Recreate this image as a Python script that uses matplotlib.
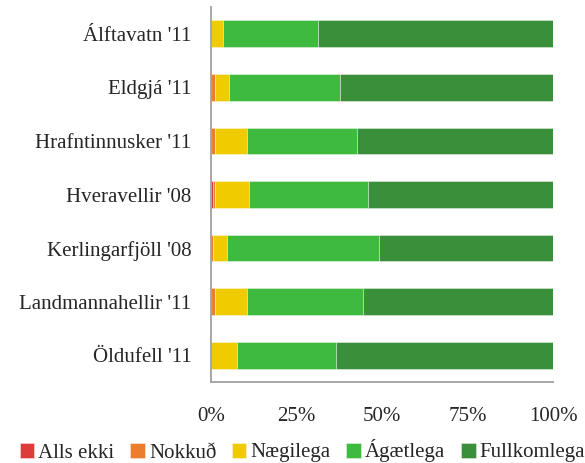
import matplotlib
matplotlib.use("Agg")
import matplotlib.pyplot as plt
import numpy as np

categories = ["Álftavatn '11", "Eldgjá '11", "Hrafntinnusker '11", "Hveravellir '08",
              "Kerlingarfjöll '08", "Landmannahellir '11", "Öldufell '11"]
series_names = ["Alls ekki", "Nokkuð", "Nægilega", "Ágætlega", "Fullkomlega"]
alls_ekki = [0.0, 0.0, 0.0, 0.6, 0.0, 0.0, 0.0]
nokkud = [0.0, 1.3, 1.3, 0.7, 0.6, 1.3, 0.0]
naegilega = [3.5, 4.0, 9.3, 9.8, 4.2, 9.3, 7.5]
agaetlega = [27.8, 32.5, 32.1, 34.9, 44.2, 33.9, 29.1]
fullkomlega = [68.7, 62.2, 57.3, 54.0, 51.0, 55.5, 63.4]
colors = ["#DE3B3B", "#EB7D2C", "#EFCB00", "#3EBB3F", "#3A8F3A"]
xticks = [0, 25, 50, 75, 100]
xticklabels = ["0%", "25%", "50%", "75%", "100%"]

plt.rcParams['font.family'] = ['Liberation Serif', 'DejaVu Serif']
FS = 15

fig = plt.figure(figsize=(5.85, 4.63), dpi=100)
ax = fig.add_axes([211/585, 1-382/463, 342/585, 375/463])

y = np.arange(len(categories))
left = np.zeros(len(categories))
for name, vals, c in zip(series_names, [alls_ekki, nokkud, naegilega, agaetlega, fullkomlega], colors):
    vals = np.array(vals)
    ax.barh(y, vals, left=left, height=0.5, color=c, label=name,
            edgecolor=(1, 1, 1, 0.45), linewidth=0.6)
    left += vals

ax.set_ylim(len(categories) - 0.5, -0.5)
ax.set_xlim(0, 100)
ax.set_yticks(y)
ax.set_yticklabels(categories, fontsize=FS, color="#262626")
ax.set_xticks(xticks)
ax.set_xticklabels(xticklabels, fontsize=FS, color="#262626")
ax.tick_params(axis='both', length=0)
ax.tick_params(axis='y', pad=14)
ax.tick_params(axis='x', pad=18)
for s in ['top', 'right']:
    ax.spines[s].set_visible(False)
for s in ['left', 'bottom']:
    ax.spines[s].set_color('#A0A0A0')
    ax.spines[s].set_linewidth(1.3)

handles, labels = ax.get_legend_handles_labels()
leg = fig.legend(handles, labels, loc='center', bbox_to_anchor=(0.517, 1-451/463), ncol=5,
                 frameon=False, fontsize=FS, handlelength=0.7, handleheight=0.7,
                 handletextpad=0.2, columnspacing=0.75, borderaxespad=0, borderpad=0)
for t in leg.get_texts():
    t.set_color("#262626")

fig.savefig("out.png", dpi=100)
